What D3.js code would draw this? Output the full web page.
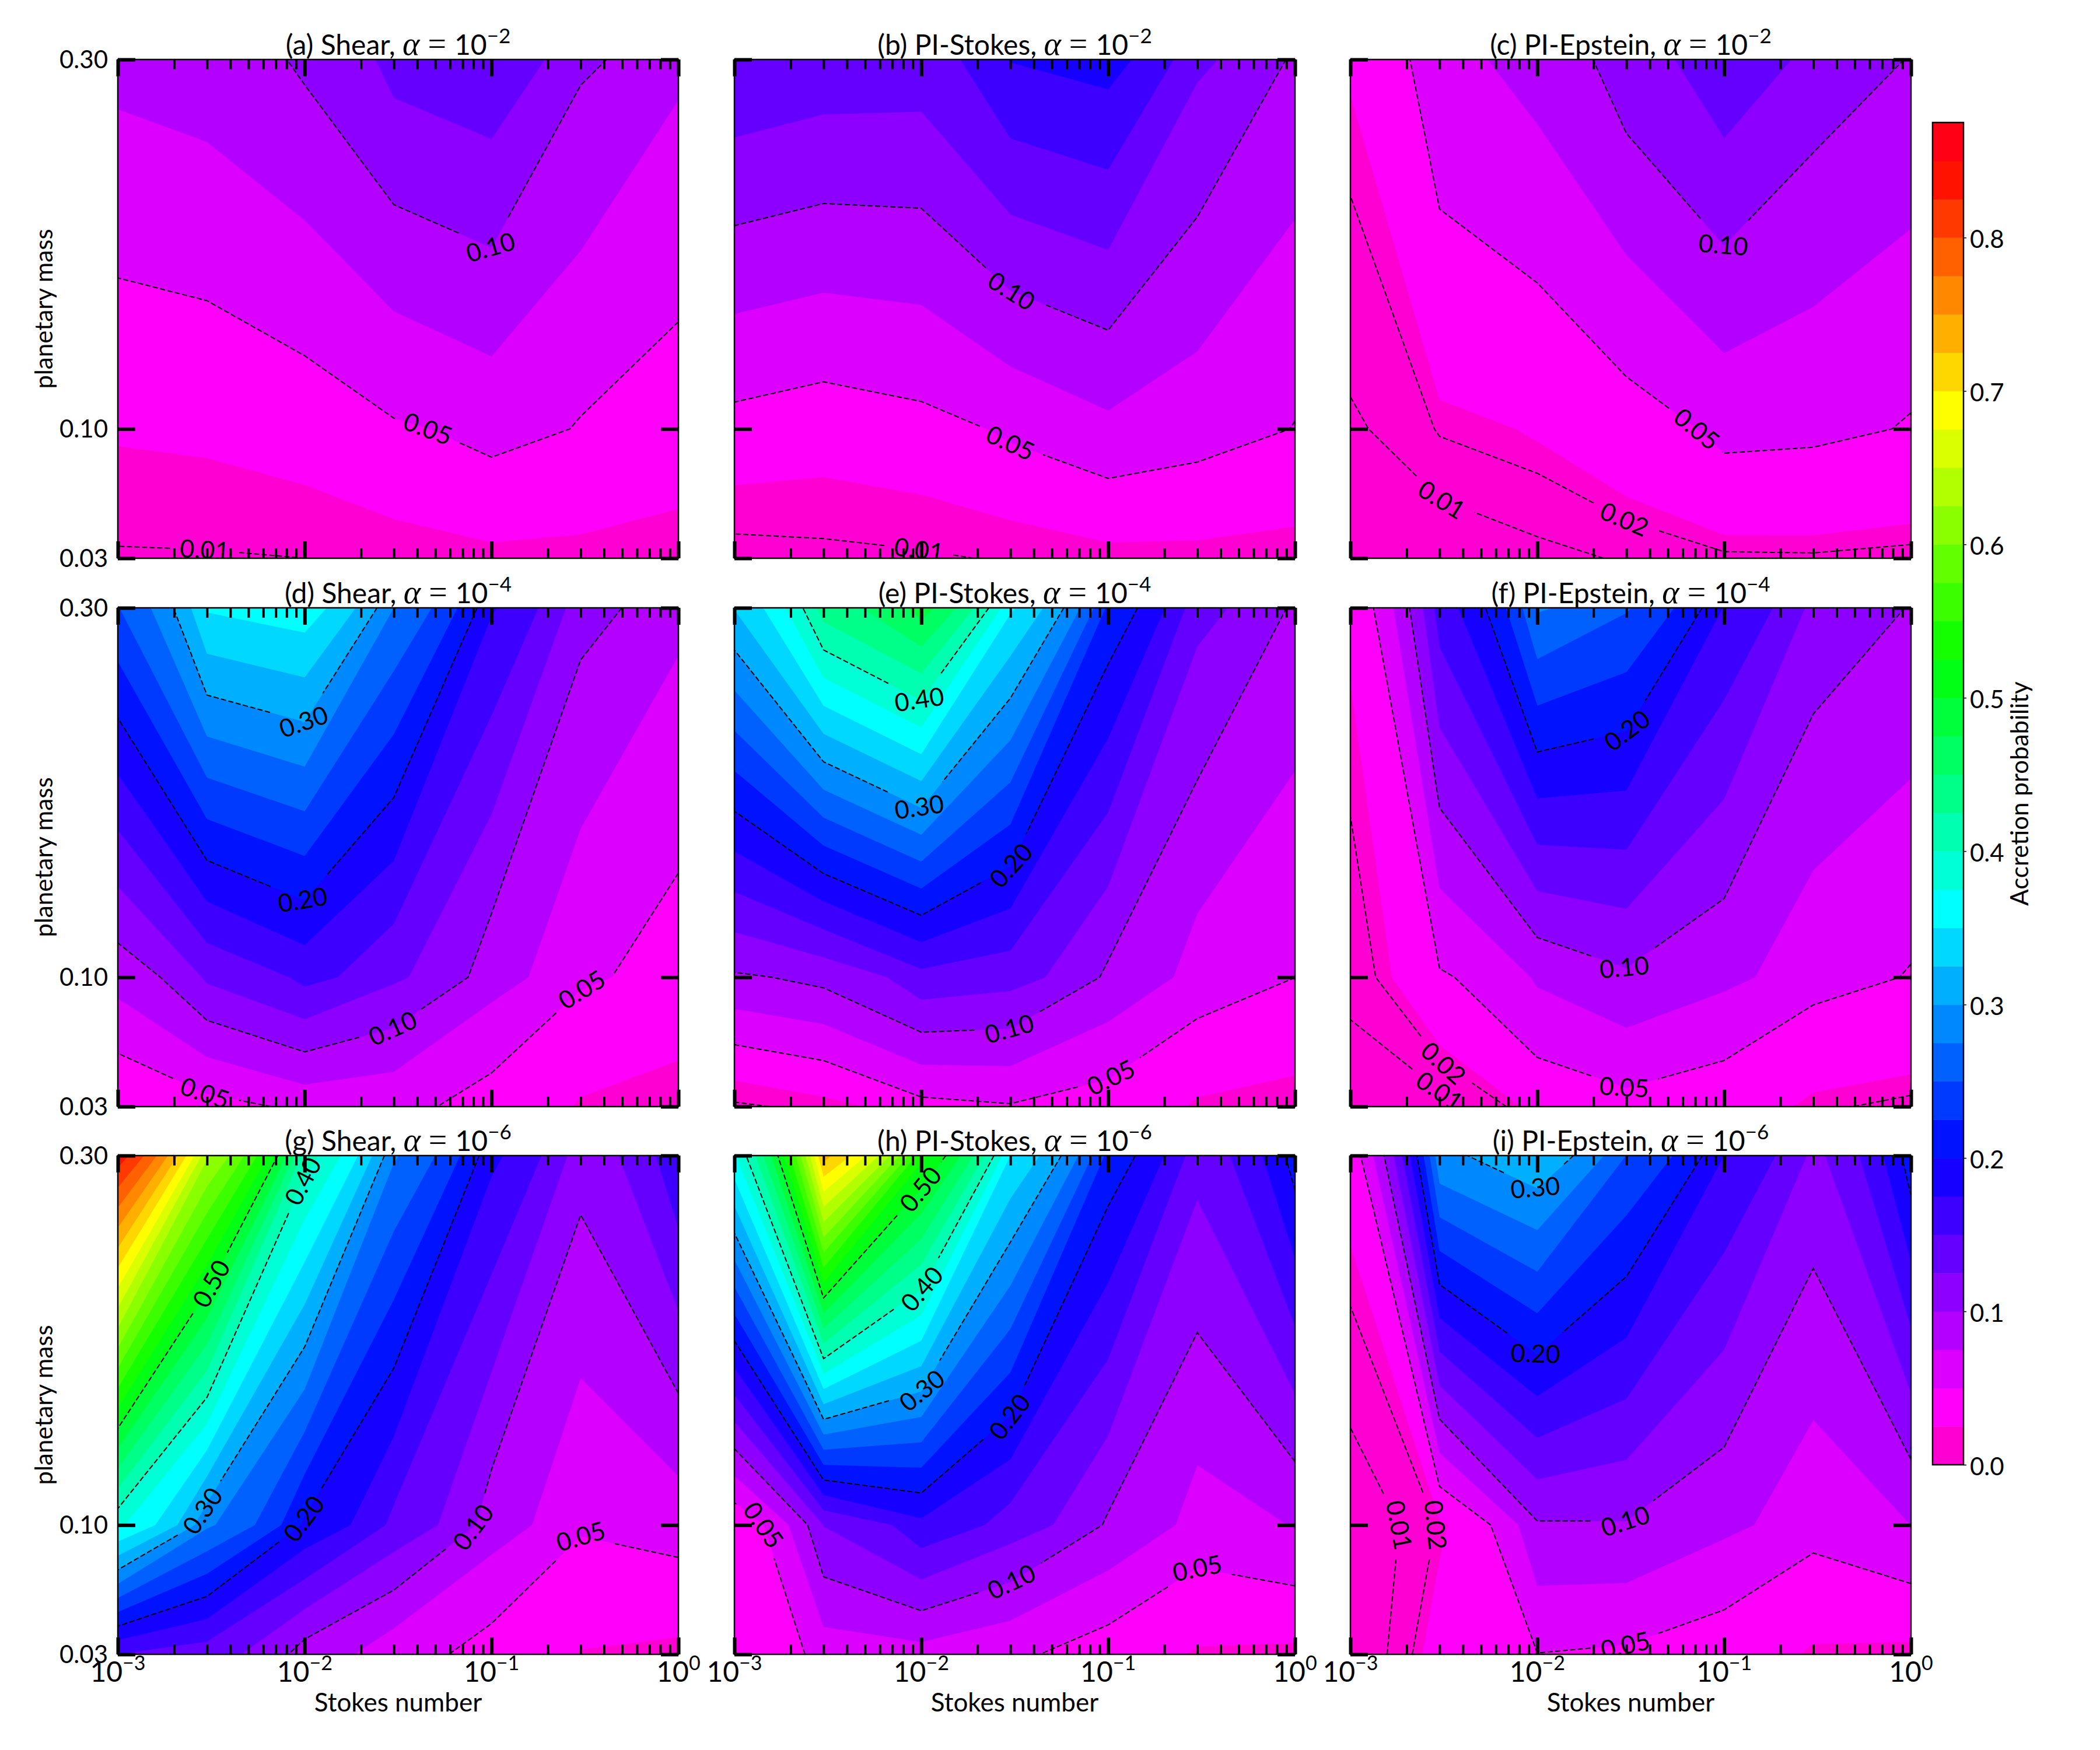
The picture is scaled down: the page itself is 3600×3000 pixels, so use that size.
<!DOCTYPE html>
<html>
<head>
<meta charset="utf-8">
<script src="https://cdn.jsdelivr.net/npm/d3@7"></script>
<style>
  html, body { margin: 0; padding: 0; background: #fff; }
  text { font-family: "Lato", "Open Sans", sans-serif; fill: #000; }
</style>
</head>
<body>
<div id="chart"></div>
<script>
// grid of the simulations
const stokesGrid = [0.001, 0.003, 0.01, 0.03, 0.1, 0.3, 1];
const massGrid = [0.03, 0.1, 0.3];

// accretion probability, one row per planetary mass (0.03, 0.10, 0.30)
const shearA2 = [
    [0.0082, 0.0086, 0.0100, 0.0153, 0.0204, 0.0198, 0.0171],
    [0.0276, 0.0298, 0.0365, 0.0475, 0.0583, 0.0481, 0.0379],
    [0.0824, 0.0880, 0.1047, 0.1340, 0.1433, 0.1039, 0.0796]];
const stokesA2 = [
    [0.0025, 0.0052, 0.0077, 0.0128, 0.0189, 0.0193, 0.0172],
    [0.0424, 0.0368, 0.0429, 0.0545, 0.0693, 0.0606, 0.0490],
    [0.1471, 0.1404, 0.1385, 0.1760, 0.1843, 0.1293, 0.0948]];
const epsteinA2 = [
    [0.0020, 0.0005, 0.0066, 0.0120, 0.0180, 0.0185, 0.0167],
    [0.0084, 0.0212, 0.0270, 0.0393, 0.0574, 0.0552, 0.0478],
    [0.0268, 0.0696, 0.0852, 0.1152, 0.1433, 0.1151, 0.0980]];
const shearA4 = [
    [0.0257, 0.0414, 0.0582, 0.0552, 0.0381, 0.0228, 0.0178],
    [0.0847, 0.1293, 0.1571, 0.1289, 0.0839, 0.0530, 0.0380],
    [0.2490, 0.3528, 0.3639, 0.2750, 0.1772, 0.1077, 0.0805]];
const stokesA4 = [
    [0.0069, 0.0184, 0.0427, 0.0481, 0.0382, 0.0221, 0.0171],
    [0.0970, 0.1073, 0.1424, 0.1342, 0.0944, 0.0631, 0.0501],
    [0.3262, 0.4377, 0.4862, 0.3536, 0.2190, 0.1323, 0.0947]];
const epsteinA4 = [
    [0.0020, 0.0049, 0.0325, 0.0422, 0.0333, 0.0210, 0.0173],
    [0.0139, 0.0473, 0.0786, 0.0961, 0.0802, 0.0579, 0.0482],
    [0.0279, 0.1623, 0.2777, 0.2522, 0.1732, 0.1170, 0.0980]];
const shearA6 = [
    [0.1500, 0.1360, 0.0874, 0.0580, 0.0388, 0.0240, 0.0196],
    [0.3795, 0.2789, 0.1950, 0.1426, 0.0858, 0.0525, 0.0602],
    [0.8400, 0.6293, 0.4126, 0.2777, 0.1804, 0.1091, 0.1720]];
const stokesA6 = [
    [0.0243, 0.0614, 0.0652, 0.0531, 0.0365, 0.0226, 0.0200],
    [0.0293, 0.1258, 0.1685, 0.1373, 0.0959, 0.0637, 0.0767],
    [0.3718, 0.7348, 0.5323, 0.3497, 0.2165, 0.1334, 0.2128]];
const epsteinA6 = [
    [0.0000, 0.0350, 0.0495, 0.0462, 0.0343, 0.0222, 0.0196],
    [0.0020, 0.0214, 0.0976, 0.0984, 0.0800, 0.0577, 0.0752],
    [0.0324, 0.2958, 0.3198, 0.2495, 0.1750, 0.1186, 0.2152]];

const panelValues = [shearA2, stokesA2, epsteinA2, shearA4, stokesA4, epsteinA4, shearA6, stokesA6, epsteinA6];
const panelNames = ["(a) Shear, ", "(b) PI-Stokes, ", "(c) PI-Epstein, ",
                    "(d) Shear, ", "(e) PI-Stokes, ", "(f) PI-Epstein, ",
                    "(g) Shear, ", "(h) PI-Stokes, ", "(i) PI-Epstein, "];
const alphaExponents = ["\u22122", "\u22124", "\u22126"];

// contour labels: level, and roughly where on that contour it sits (Stokes, mass)
const panelLabels = [
    [[0.10, 0.099, 0.199], [0.05, 0.0456, 0.1005], [0.01, 0.0029, 0.035]],
    [[0.10, 0.0303, 0.175], [0.05, 0.0303, 0.0935], [0.01, 0.00975, 0.035]],
    [[0.10, 0.0993, 0.200], [0.05, 0.0716, 0.1005], [0.02, 0.0299, 0.0532], [0.01, 0.003, 0.0592]],
    [[0.30, 0.00984, 0.2387], [0.20, 0.00984, 0.1426], [0.10, 0.0295, 0.0731], [0.05, 0.2965, 0.0964], [0.05, 0.00296, 0.0382]],
    [[0.40, 0.00984, 0.2512], [0.30, 0.00984, 0.1931], [0.20, 0.0292, 0.1612], [0.10, 0.0296, 0.0737], [0.05, 0.0995, 0.0482]],
    [[0.20, 0.0294, 0.2345], [0.10, 0.0294, 0.1062], [0.05, 0.0294, 0.0419], [0.02, 0.00302, 0.0511], [0.01, 0.00292, 0.0367]],
    [[0.50, 0.0029, 0.2326], [0.40, 0.0096, 0.2865], [0.30, 0.00293, 0.1069], [0.20, 0.00973, 0.1037], [0.10, 0.077, 0.1006], [0.05, 0.2917, 0.0968]],
    [[0.50, 0.00975, 0.2823], [0.40, 0.00975, 0.2284], [0.30, 0.00984, 0.1734], [0.20, 0.0292, 0.1593], [0.10, 0.0296, 0.0706], [0.05, 0.298, 0.0784], [0.05, 0.00147, 0.1006]],
    [[0.30, 0.00987, 0.284], [0.20, 0.00987, 0.1935], [0.10, 0.0294, 0.1031], [0.05, 0.0294, 0.0372], [0.02, 0.00302, 0.1006], [0.01, 0.00199, 0.1006]]
];

// the 0.02 contour is only drawn in the Epstein column
const contourLevels = [0.01, 0.05, 0.1, 0.2, 0.3, 0.4, 0.5];
const epsteinLevels = [0.01, 0.02, 0.05, 0.1, 0.2, 0.3, 0.4, 0.5];
const fillLevels = d3.range(0, 36).map(i => i * 0.025);
const colorbarTicks = [0, 0.1, 0.2, 0.3, 0.4, 0.5, 0.6, 0.7, 0.8];
const massTicks = [0.03, 0.1, 0.3];
const stokesMajor = [0.001, 0.01, 0.1, 1];
const stokesMinor = [2, 3, 4, 5, 6, 7, 8, 9].flatMap(m => [0.001, 0.01, 0.1].map(d => m * d));

// reversed gist_rainbow
const cmap = d3.scaleLinear()
    .domain([0, 0.046, 0.23, 0.414, 0.6, 0.785, 0.97, 1])
    .range(["#ff00bf", "#ff00ff", "#0000ff", "#00ffff", "#00ff00", "#ffff00", "#ff0000", "#ff0029"]);
const levelMax = fillLevels[fillLevels.length - 1];
const bandColor = i => cmap((fillLevels[i] + fillLevels[i + 1]) / 2 / levelMax);

const lefts = [202, 1259, 2315];
const tops = [102, 1042, 1981];
const panelW = 961;
const panelH = 855;

const svg = d3.select("#chart").append("svg")
    .attr("width", 3600)
    .attr("height", 3000)
    .attr("viewBox", "0 0 3600 3000");

const nx = stokesGrid.length;
const ny = massGrid.length;
const contours = d3.contours().size([nx, ny]).smooth(true);
const stokesAt = d3.scaleLinear().domain(d3.range(nx)).range(stokesGrid);
const massAt = d3.scaleLinear().domain(d3.range(ny)).range(massGrid);

// segments running along the outer edge of the grid are not part of the contour line
function onEdge(a, b) {
    return (a[0] <= 0.5 && b[0] <= 0.5) || (a[0] >= nx - 0.5 && b[0] >= nx - 0.5) ||
           (a[1] <= 0.5 && b[1] <= 0.5) || (a[1] >= ny - 0.5 && b[1] >= ny - 0.5);
}

function contourLines(values, level) {
    const lines = [];
    contours.contour(values, level).coordinates.forEach(poly => poly.forEach(ring => {
        const n = ring.length - 1;
        let start = 0;
        for (let i = 0; i < n; i++) {
            if (onEdge(ring[i], ring[i + 1])) { start = i + 1; break; }
        }
        let cur = [ring[start % n]];
        for (let k = 0; k < n; k++) {
            const a = ring[(start + k) % n], b = ring[(start + k + 1) % n];
            if (onEdge(a, b)) {
                if (cur.length > 1) lines.push(cur);
                cur = [b];
            } else {
                cur.push(b);
            }
        }
        if (cur.length > 1) lines.push(cur);
    }));
    return lines;
}

// walk a polyline in small pixel steps, so labels can find a spot and cut a gap
function resample(line) {
    const out = [];
    for (let i = 0; i < line.length - 1; i++) {
        const a = line[i], b = line[i + 1];
        const steps = Math.max(1, Math.ceil(Math.hypot(b[0] - a[0], b[1] - a[1]) / 2));
        for (let s = 0; s < steps; s++) {
            out.push([a[0] + (b[0] - a[0]) * s / steps, a[1] + (b[1] - a[1]) * s / steps]);
        }
    }
    out.push(line[line.length - 1]);
    return out;
}

function drawPanel(idx) {
    const col = idx % 3, row = Math.floor(idx / 3);
    const g = svg.append("g").attr("transform", `translate(${lefts[col]},${tops[row]})`);
    const x = d3.scaleLog().domain([0.001, 1]).range([0, panelW]);
    const y = d3.scaleLinear().domain([0.03, 0.3]).range([panelH, 0]);
    const values = panelValues[idx].flat();

    const clamp = (v, n) => Math.max(0, Math.min(n - 1, v - 0.5));
    const toPixel = c => [x(stokesAt(clamp(c[0], nx))), y(massAt(clamp(c[1], ny)))];
    const path = d3.geoPath();

    g.append("rect").attr("width", panelW).attr("height", panelH).attr("fill", bandColor(0));
    for (let i = 1; i < fillLevels.length - 1; i++) {
        const c = contours.contour(values, fillLevels[i]);
        if (!c.coordinates.length) continue;
        const mapped = {
            type: "MultiPolygon",
            coordinates: c.coordinates.map(poly => poly.map(ring => ring.map(toPixel)))
        };
        g.append("path").attr("d", path(mapped)).attr("fill", bandColor(i));
    }

    const clipId = "clip" + idx;
    g.append("clipPath").attr("id", clipId)
        .append("rect").attr("width", panelW).attr("height", panelH);

    const labels = panelLabels[idx];
    const placed = [];
    const lineGen = d3.line();
    const levelLines = (col === 2 ? epsteinLevels : contourLevels).map(level => ({
        level,
        lines: contourLines(values, level).map(l => resample(l.map(toPixel)))
    }));

    labels.forEach(lab => {
        const ll = levelLines.find(d => d.level === lab[0]);
        const px = x(lab[1]), py = y(lab[2]);
        let best = null;
        ll.lines.forEach(line => line.forEach((p, i) => {
            const dist = Math.hypot(p[0] - px, p[1] - py);
            if (!best || dist < best.dist) best = { dist, line, i, p };
        }));
        if (!best) return;
        const a = best.line[Math.max(0, best.i - 20)];
        const b = best.line[Math.min(best.line.length - 1, best.i + 20)];
        let angle = Math.atan2(b[1] - a[1], b[0] - a[0]) * 180 / Math.PI;
        if (angle > 90) angle -= 180;
        if (angle < -90) angle += 180;
        placed.push({ level: lab[0], p: best.p, angle });
    });

    levelLines.forEach(ll => {
        const gaps = placed.filter(d => d.level === ll.level);
        ll.lines.forEach(line => {
            let cur = [];
            const flush = () => {
                if (cur.length > 1) {
                    g.append("path").attr("d", lineGen(cur))
                        .attr("fill", "none").attr("stroke", "#000")
                        .attr("stroke-width", 2).attr("stroke-dasharray", "9,4");
                }
                cur = [];
            };
            line.forEach(p => {
                if (gaps.some(l => Math.hypot(p[0] - l.p[0], p[1] - l.p[1]) < 58)) flush();
                else cur.push(p);
            });
            flush();
        });
    });

    const labelLayer = g.append("g").attr("clip-path", `url(#${clipId})`);
    placed.forEach(l => {
        labelLayer.append("text")
            .attr("transform", `translate(${l.p[0]},${l.p[1]}) rotate(${l.angle})`)
            .attr("text-anchor", "middle")
            .attr("dy", "0.36em")
            .attr("font-size", 43)
            .text(d3.format(".2f")(l.level));
    });

    // ticks on all four sides, pointing inwards
    const tickStyle = (sel, w) => {
        sel.selectAll(".domain").remove();
        sel.selectAll("line").attr("stroke", "#000").attr("stroke-width", w);
        sel.selectAll("text").remove();
    };
    g.append("g").attr("transform", `translate(0,${panelH})`)
        .call(d3.axisBottom(x).tickValues(stokesMinor).tickSize(-17)).call(tickStyle, 4);
    g.append("g").call(d3.axisTop(x).tickValues(stokesMinor).tickSize(-17)).call(tickStyle, 4);
    g.append("g").attr("transform", `translate(0,${panelH})`)
        .call(d3.axisBottom(x).tickValues(stokesMajor).tickSize(-29)).call(tickStyle, 6);
    g.append("g").call(d3.axisTop(x).tickValues(stokesMajor).tickSize(-29)).call(tickStyle, 6);
    g.append("g").call(d3.axisLeft(y).tickValues(massTicks).tickSize(-30)).call(tickStyle, 6);
    g.append("g").attr("transform", `translate(${panelW},0)`)
        .call(d3.axisRight(y).tickValues(massTicks).tickSize(-30)).call(tickStyle, 6);

    g.append("rect").attr("width", panelW).attr("height", panelH)
        .attr("fill", "none").attr("stroke", "#000").attr("stroke-width", 2.5);

    // title
    const title = g.append("text")
        .attr("x", panelW / 2).attr("y", -8)
        .attr("text-anchor", "middle").attr("font-size", 48);
    title.append("tspan").text(panelNames[idx]);
    title.append("tspan").attr("font-family", "Liberation Serif").attr("font-style", "italic")
        .attr("font-size", 56).text("\u03b1");
    title.append("tspan").attr("font-family", "Liberation Serif").attr("font-size", 56).text(" = ");
    title.append("tspan").text("10");
    title.append("tspan").attr("dy", -20).attr("font-size", 35).text(alphaExponents[row]);

    if (col === 0) {
        massTicks.forEach(m => {
            g.append("text").attr("x", -17).attr("y", y(m)).attr("dy", "0.36em")
                .attr("text-anchor", "end").attr("font-size", 42)
                .text(d3.format(".2f")(m));
        });
        g.append("text")
            .attr("transform", `translate(-112,${panelH / 2}) rotate(-90)`)
            .attr("text-anchor", "middle").attr("font-size", 42)
            .text("planetary mass");
    }
    if (row === 2) {
        stokesMajor.forEach(s => {
            const t = g.append("text").attr("x", x(s)).attr("y", panelH + 47)
                .attr("text-anchor", "middle").attr("font-size", 48);
            t.append("tspan").text("10");
            t.append("tspan").attr("dy", -20).attr("font-size", 34)
                .text(s === 1 ? "0" : "\u2212" + Math.round(-Math.log10(s)));
        });
        g.append("text").attr("x", panelW / 2).attr("y", panelH + 98)
            .attr("text-anchor", "middle").attr("font-size", 44)
            .text("Stokes number");
    }
}

d3.range(panelValues.length).forEach(drawPanel);

// colour bar
const barX = 3313, barW = 53, barTop = 210, barBottom = 2511;
const barY = d3.scaleLinear().domain([0, levelMax]).range([barBottom, barTop]);
const bar = svg.append("g");
bar.selectAll("rect").data(d3.range(fillLevels.length - 1)).join("rect")
    .attr("x", barX).attr("width", barW)
    .attr("y", i => barY(fillLevels[i + 1]))
    .attr("height", i => barY(fillLevels[i]) - barY(fillLevels[i + 1]) + 0.5)
    .attr("fill", i => bandColor(i));
bar.append("rect").attr("x", barX).attr("y", barTop).attr("width", barW).attr("height", barBottom - barTop)
    .attr("fill", "none").attr("stroke", "#000").attr("stroke-width", 2.5);
const barAxis = svg.append("g").attr("transform", `translate(${barX + barW},0)`)
    .call(d3.axisRight(barY).tickValues(colorbarTicks).tickSize(5).tickPadding(6).tickFormat(d3.format(".1f")));
barAxis.select(".domain").remove();
barAxis.selectAll("line").attr("stroke", "#000").attr("stroke-width", 1.5);
barAxis.selectAll("text").attr("font-size", 42).attr("font-family", "Lato").attr("dy", "0.42em");
svg.append("text")
    .attr("transform", `translate(3477,${(barTop + barBottom) / 2}) rotate(-90)`)
    .attr("text-anchor", "middle").attr("font-size", 42)
    .text("Accretion probability");
</script>
</body>
</html>
